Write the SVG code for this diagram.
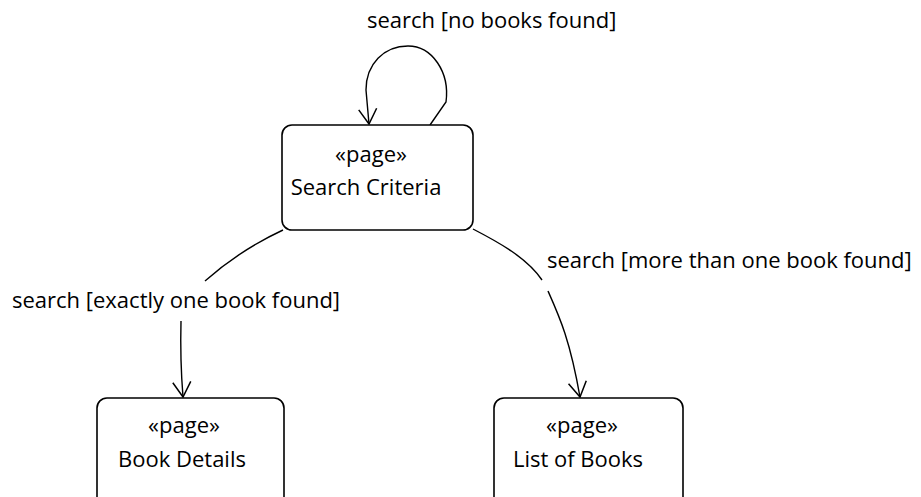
<svg xmlns="http://www.w3.org/2000/svg" width="921" height="497" viewBox="0 0 921 497">
<defs>
<marker id="arrow" viewBox="-16 -10 18 20" refX="0" refY="0" markerWidth="18" markerHeight="20" markerUnits="userSpaceOnUse" orient="auto" overflow="visible">
<path d="M-15,-9 L0,0 L-15,9" fill="none" stroke="#000" stroke-width="1.5"/>
</marker>
<style>
.box{fill:#fff;stroke:#000;stroke-width:1.6}
.t{font-family:"Open Sans","Liberation Sans",sans-serif;font-size:22px;fill:#000}
.c{text-anchor:middle}
.ln{fill:none;stroke:#000;stroke-width:1.4}
</style>
</defs>
<rect width="921" height="497" fill="#fff"/>
<g id="connectors">
<path class="ln" d="M430,125 L446,102 C450,72 432,46 408,46 C384,46 366,64 366,90 L369,124" marker-end="url(#arrow)"/>
<path class="ln" d="M283,230 Q240,250 205,281"/>
<path class="ln" d="M181,321 Q180,360 183,397" marker-end="url(#arrow)"/>
<path class="ln" d="M473,229 C500,243 527,258 542,280"/>
<path class="ln" d="M548,291 C560,318 570,340 580,397" marker-end="url(#arrow)"/>
<text class="t" x="367" y="28">search [no books found]</text>
<text class="t" x="12" y="308">search [exactly one book found]</text>
<text class="t" x="547" y="268">search [more than one book found]</text>
</g>
<g id="search-criteria">
<rect class="box" x="282" y="125" width="191" height="105" rx="10"/>
<text class="t c" x="371" y="162">«page»</text>
<text class="t c" x="366" y="195">Search Criteria</text>
</g>
<g id="book-details">
<rect class="box" x="97" y="398" width="187" height="115" rx="10"/>
<text class="t c" x="184" y="433">«page»</text>
<text class="t c" x="182" y="467">Book Details</text>
</g>
<g id="list-of-books">
<rect class="box" x="494" y="398" width="189" height="115" rx="10"/>
<text class="t c" x="582" y="433">«page»</text>
<text class="t c" x="578" y="467">List of Books</text>
</g>
</svg>
